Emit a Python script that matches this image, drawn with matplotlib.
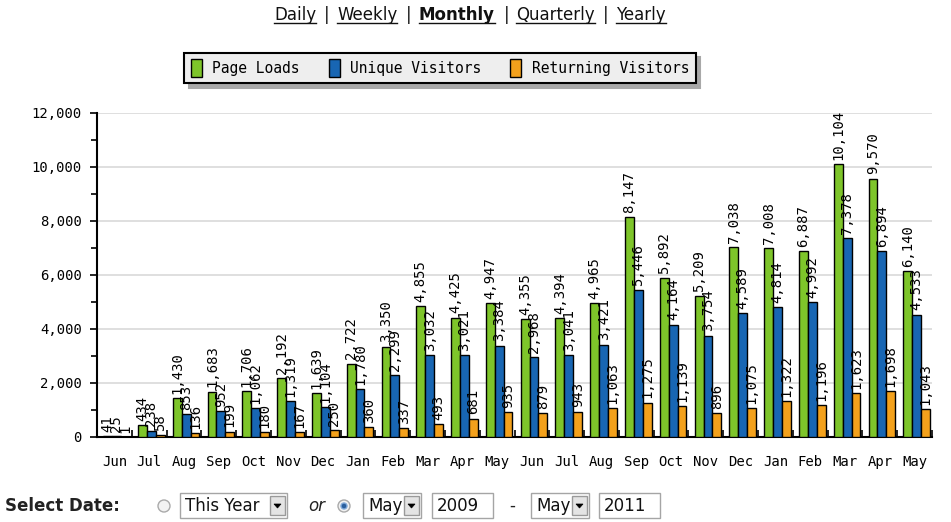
import numpy as np
import matplotlib
matplotlib.use("Agg")
import matplotlib.pyplot as plt
from matplotlib.patches import Rectangle, Ellipse, Polygon
from matplotlib.lines import Line2D

months = ["Jun", "Jul", "Aug", "Sep", "Oct", "Nov", "Dec", "Jan", "Feb", "Mar", "Apr", "May",
          "Jun", "Jul", "Aug", "Sep", "Oct", "Nov", "Dec", "Jan", "Feb", "Mar", "Apr", "May"]
page_loads = [41, 434, 1430, 1683, 1706, 2192, 1639, 2722, 3350, 4855, 4425, 4947,
              4355, 4394, 4965, 8147, 5892, 5209, 7038, 7008, 6887, 10104, 9570, 6140]
unique_visitors = [25, 238, 853, 952, 1062, 1319, 1104, 1780, 2299, 3032, 3021, 3384,
                   2968, 3041, 3421, 5446, 4164, 3754, 4589, 4814, 4992, 7378, 6894, 4533]
returning_visitors = [1, 58, 136, 199, 180, 167, 250, 360, 337, 493, 681, 935,
                      879, 943, 1063, 1275, 1139, 896, 1075, 1322, 1196, 1623, 1698, 1043]

series = [("Page Loads", page_loads, "#7ec52a"),
          ("Unique Visitors", unique_visitors, "#1866b3"),
          ("Returning Visitors", returning_visitors, "#f3a11c")]

W, H = 951, 522
fig = plt.figure(figsize=(W / 100, H / 100), dpi=100)
fig.patch.set_facecolor("white")

mono = "DejaVu Sans Mono"

# plot area
ax = fig.add_axes([97 / W, 1 - 437 / H, (932 - 97) / W, (437 - 113) / H])
x = np.arange(len(months))
offsets = [-0.195, 0.06, 0.315]
bw = 0.255
handles = []
for (name, vals, col), off in zip(series, offsets):
    bars = ax.bar(x + off, vals, bw, color=col, edgecolor="black", linewidth=1.0,
                  label=name, zorder=3)
    handles.append(bars)
    for xi, v in zip(x + off, vals):
        ax.annotate(f"{v:,}", (xi, v), xytext=(0, 3), textcoords="offset points",
                    rotation=90, ha="center", va="bottom", fontsize=10,
                    family=mono, zorder=4)

ax.set_xlim(-0.5, len(months) - 0.5)
ax.set_ylim(0, 12000)
ax.set_yticks(np.arange(0, 12001, 2000))
ax.set_yticks(np.arange(0, 12001, 1000), minor=True)
ax.set_yticklabels([f"{v:,}" for v in range(0, 12001, 2000)], family=mono, fontsize=10)
ax.set_xticks(x)
ax.set_xticklabels(months, family=mono, fontsize=10)
ax.set_xticks(np.arange(-0.5, len(months)), minor=True)
ax.tick_params(axis="y", which="major", direction="out", length=5, width=1.2, pad=6)
ax.tick_params(axis="y", which="minor", direction="out", length=4, width=1.2)
ax.tick_params(axis="x", which="major", length=0, pad=13)
ax.tick_params(axis="x", which="minor", direction="in", length=5, width=1.2)
for yv in range(2000, 12001, 2000):
    ax.axhline(yv, color="#d9d9d9", linewidth=1.2, zorder=1)
for s in ["top", "right"]:
    ax.spines[s].set_visible(False)
for s in ["left", "bottom"]:
    ax.spines[s].set_linewidth(1.5)

# legend
leg = fig.legend(handles=handles, loc="center", bbox_to_anchor=(440 / W, 1 - 68 / H),
                 ncol=3, frameon=True, fancybox=False,
                 shadow={"color": "#a8a8a8", "alpha": 1.0, "ox": 3, "oy": -3},
                 prop={"family": mono, "size": 10.5}, handlelength=0.75,
                 handleheight=1.5, handletextpad=0.7, columnspacing=2.0,
                 borderpad=0.45, framealpha=1)
leg.get_frame().set_facecolor("#eeeeee")
leg.get_frame().set_edgecolor("black")
leg.get_frame().set_linewidth(1.5)


def fx(px):
    return px / W


def fy(py):
    return 1 - py / H


# top navigation links
links = [("Daily", 274, False, True), ("|", 324, False, False), ("Weekly", 337, False, True),
         ("|", 406, False, False), ("Monthly", 419, True, True), ("|", 504, False, False),
         ("Quarterly", 516, False, True), ("|", 603, False, False), ("Yearly", 616, False, True)]
link_texts = []
for word, px, bold, under in links:
    t = fig.text(fx(px), fy(20), word, fontsize=12, family="DejaVu Sans",
                 fontweight="bold" if bold else "normal", ha="left", va="baseline",
                 color="#111111")
    link_texts.append((t, under))

renderer = fig.canvas.get_renderer()
for t, under in link_texts:
    if under:
        bb = t.get_window_extent(renderer)
        fig.add_artist(Line2D([bb.x0 / W, bb.x1 / W], [fy(23), fy(23)],
                              transform=fig.transFigure, color="#111111", linewidth=1))

# bottom date selector
fig.text(fx(5), fy(506), "Select Date:", fontsize=12, fontweight="bold", va="center",
         ha="left", color="#222222")


def radio(px, checked):
    fig.add_artist(Ellipse((fx(px), fy(506)), 12 / W, 12 / H, transform=fig.transFigure,
                           facecolor="#f2f2f2", edgecolor="#aaaaaa", linewidth=1))
    if checked:
        fig.add_artist(Ellipse((fx(px), fy(506)), 6 / W, 6 / H, transform=fig.transFigure,
                               facecolor="#2a5f9e", edgecolor="#7fa8d8", linewidth=1))


def box(x0, x1, label, arrow):
    fig.add_artist(Rectangle((fx(x0), fy(518)), (x1 - x0) / W, 25 / H,
                             transform=fig.transFigure, facecolor="white",
                             edgecolor="#a5a5a5", linewidth=1))
    fig.text(fx(x0 + 5), fy(506), label, fontsize=12, va="center", ha="left",
             color="#111111")
    if arrow:
        ax0 = x1 - 17
        fig.add_artist(Rectangle((fx(ax0), fy(515)), 15 / W, 19 / H,
                                 transform=fig.transFigure, facecolor="#e4e4e4",
                                 edgecolor="#9a9a9a", linewidth=1))
        cx = ax0 + 7.5
        fig.add_artist(Polygon([(fx(cx - 3.5), fy(504)), (fx(cx + 3.5), fy(504)),
                                (fx(cx), fy(508))], closed=True,
                               transform=fig.transFigure, facecolor="black",
                               edgecolor="black", linewidth=0.5))


radio(164, False)
box(180, 287, "This Year", True)
fig.text(fx(308), fy(506), "or", fontsize=12, style="italic", va="center", ha="left",
         color="#222222")
radio(344, True)
box(363, 421, "May", True)
box(432, 493, "2009", False)
fig.text(fx(512), fy(506), "-", fontsize=12, va="center", ha="center", color="#222222")
box(531, 589, "May", True)
box(599, 660, "2011", False)

fig.savefig("out.png", dpi=100)
